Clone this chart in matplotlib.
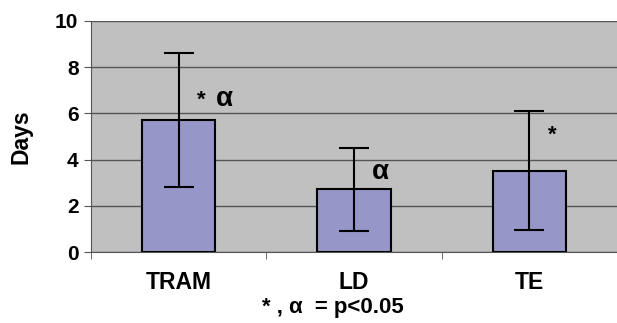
import matplotlib
matplotlib.use("Agg")
import matplotlib.pyplot as plt
import numpy as np

groups = ["TRAM", "LD", "TE"]
days = [5.71, 2.71, 3.52]
errors = [2.9, 1.8, 2.58]
yticks = [0, 2, 4, 6, 8, 10]

plt.rcParams["font.family"] = ["Liberation Sans", "DejaVu Sans"]
plt.rcParams["font.weight"] = "bold"

fig = plt.figure(figsize=(6.17, 3.23), dpi=100)
ax = fig.add_axes([91 / 617, 71 / 323, 526 / 617, 231 / 323])
ax.set_facecolor("#c0c0c0")

x = np.arange(len(groups))
ax.bar(x, days, width=0.42, color="#9696c8", edgecolor="black", linewidth=1.5, zorder=3)
ax.errorbar(x, days, yerr=errors, fmt="none", ecolor="black", elinewidth=1.5,
            capsize=11, capthick=1.5, zorder=4)

# significance marks
ax.text(x[0] + 0.13, days[0] + 0.4, "*", fontsize=16, ha="center", va="bottom", zorder=5)
ax.text(x[0] + 0.26, days[0] + 0.35, "\u03b1", fontsize=20, ha="center", va="bottom", zorder=5)
ax.text(x[1] + 0.15, days[1] + 0.2, "\u03b1", fontsize=20, ha="center", va="bottom", zorder=5)
ax.text(x[2] + 0.13, days[2] + 1.1, "*", fontsize=16, ha="center", va="bottom", zorder=5)

ax.set_xlim(-0.5, 2.5)
ax.set_ylim(0, 10)
ax.set_yticks(yticks)
ax.yaxis.grid(True, color="#555555", linewidth=1.0, zorder=1)
ax.set_xticks(x)
ax.set_xticklabels(groups, fontsize=16.5, fontweight="bold")
ax.set_xticks([-0.5, 0.5, 1.5, 2.5], minor=True)
ax.tick_params(axis="x", which="major", length=0, pad=14)
ax.tick_params(axis="x", which="minor", length=5, color="#555555", direction="out")
ax.tick_params(axis="y", labelsize=15, length=5, color="#555555", pad=4)
for lab in ax.get_yticklabels():
    lab.set_fontweight("bold")
ax.set_ylabel("Days", fontsize=16.5, fontweight="bold", labelpad=16)

for side in ["top", "right"]:
    ax.spines[side].set_visible(False)
for side in ["left", "bottom"]:
    ax.spines[side].set_color("#555555")

fig.text(333 / 617, 1 - 307 / 323, "* , \u03b1  = p<0.05", fontsize=16,
         fontweight="bold", ha="center", va="center")

fig.savefig("out.png", dpi=100)
